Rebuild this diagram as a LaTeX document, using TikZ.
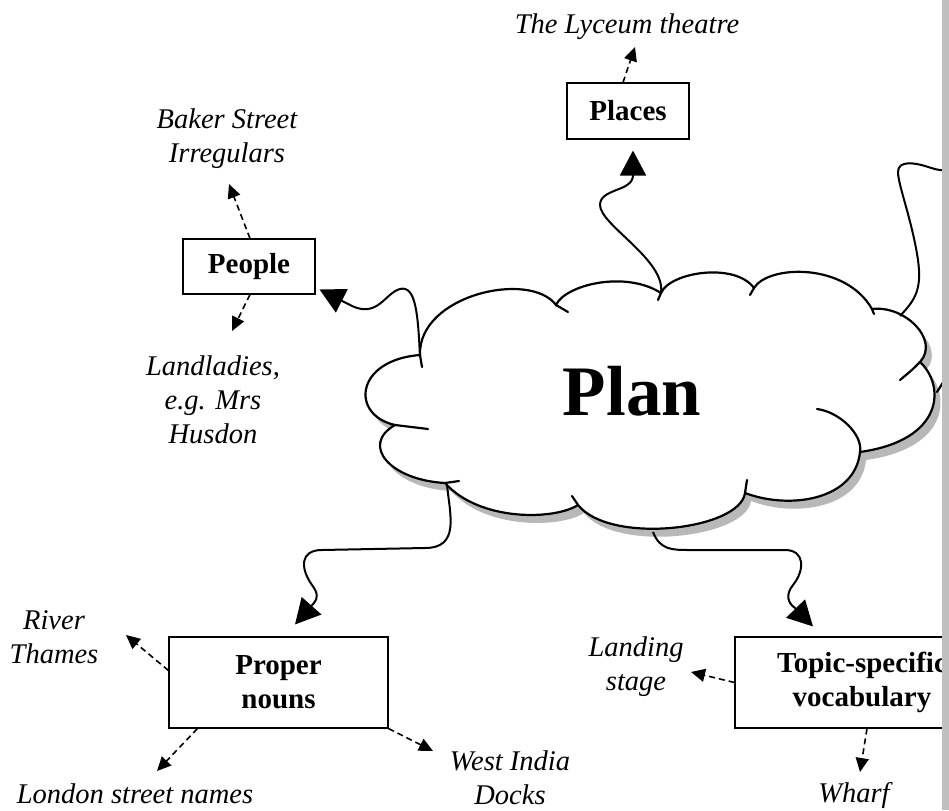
\documentclass[tikz,border=0pt]{standalone}
\usepackage{fontspec}
\setmainfont{Liberation Serif}
\usetikzlibrary{arrows.meta,calc}
\newcommand{\cloudshape}[1]{%
  \path[#1] (420,-355)
    .. controls (418,-295) and (530,-270) .. (556,-305)
    .. controls (565,-285) and (625,-270) .. (661,-293)
    .. controls (670,-272) and (735,-262) .. (754,-288)
    .. controls (768,-265) and (845,-262) .. (872,-309)
    .. controls (905,-305) and (940,-340) .. (920,-362)
    .. controls (945,-385) and (945,-440) .. (860,-452)
    .. controls (855,-500) and (790,-510) .. (745,-493)
    .. controls (740,-530) and (610,-545) .. (578,-505)
    .. controls (555,-520) and (480,-522) .. (445,-483)
    .. controls (390,-480) and (360,-445) .. (395,-425)
    .. controls (350,-415) and (355,-360) .. (420,-355) -- cycle;}
\begin{document}
\begin{tikzpicture}[x=1pt,y=1pt,
  box/.style={draw, line width=1.1pt, inner sep=0pt, font=\fontsize{29}{34}\selectfont\bfseries, align=center},
  lab/.style={font=\fontsize{28.5}{34}\selectfont\itshape, align=center, inner sep=0pt},
  wavy/.style={line width=2pt, -{Triangle[length=25pt,width=26pt]}},
  dasharr/.style={line width=1.6pt, dash pattern=on 6pt off 4pt, -{Triangle[length=14pt,width=13pt]}},
  cloudline/.style={line width=2.2pt, line cap=round},
]
\useasboundingbox (0,0) rectangle (949,-810);
\clip (0,0) rectangle (949,-810);
\fill[white] (0,0) rectangle (949,-810);

% cloud shadow and body
\cloudshape{fill=black!28, shift={(6,-8)}}
\cloudshape{fill=white, draw, cloudline}
% inner tails of the cloud lobes
\draw[cloudline] (420,-355) -- (422,-367);
\draw[cloudline] (556,-305) -- (568,-312);
\draw[cloudline] (661,-293) -- (658,-300);
\draw[cloudline] (754,-288) -- (750,-295);
\draw[cloudline] (872,-309) -- (874,-314);
\draw[cloudline] (920,-362) .. controls (912,-370) .. (900,-380);
\draw[cloudline] (860,-452) .. controls (863,-435) and (840,-412) .. (817,-409);
\draw[cloudline] (745,-493) -- (747,-480);
\draw[cloudline] (578,-505) -- (572,-496);
\draw[cloudline] (445,-483) -- (459,-481);
\draw[cloudline] (395,-425) -- (428,-429);
\draw[cloudline] (937,-392) -- (952,-368);

\node[font=\fontsize{71}{80}\selectfont\bfseries, inner sep=0pt] (plan) at (632,-391) {Plan};

% cloud anchor points
\coordinate (cTop) at (661,-293);
\coordinate (cLeft) at (420,-357);
\coordinate (cBL) at (447,-485);
\coordinate (cBot) at (653,-532);
\coordinate (cRight) at (900,-316);
\coordinate (cOff) at (955,-170);

% boxes
\node[box, minimum width=122pt, minimum height=56pt] (places) at (628,-111) {Places};
\node[box, minimum width=132pt, minimum height=55pt] (people) at (249,-266.5) {People};
\node[box, minimum width=219pt, minimum height=91pt] (proper) at (278.5,-682.5) {Proper\\nouns};
\node[box, minimum width=254pt, minimum height=91pt] (topic) at (862,-682.5) {Topic-specific\\vocabulary};

% labels
\node[lab] (lyceum) at (627,-27) {The Lyceum theatre};
\node[lab] (baker) at (227,-139) {Baker Street\\Irregulars};
\node[lab] (landl) at (213,-400) {Landladies,\\e.g. Mrs\\Husdon};
\node[lab] (river) at (54,-637) {River\\Thames};
\node[lab] (london) at (135,-794) {London street names};
\node[lab] (westindia) at (510,-778) {West India\\Docks};
\node[lab] (landing) at (636,-667) {Landing\\stage};
\node[lab] (wharf) at (854,-795) {Wharf};

% free ends of the dashed connectors
\coordinate (dLyceum) at (635,-47);
\coordinate (dBaker) at (229,-184);
\coordinate (dLandl) at (232,-331);
\coordinate (dRiver) at (126,-635);
\coordinate (dLondon) at (157,-771);
\coordinate (dWest) at (433,-751);
\coordinate (dLanding) at (691,-672);
\coordinate (dWharf) at (860,-772);

% tips of the wavy connectors
\coordinate (tPlaces) at ($(places.south)+(5,-11)$);
\coordinate (tPeople) at ($(people.east)+(4,-23)$);
\coordinate (tProper) at ($(proper.north)+(16.5,12)$);
\coordinate (tTopic) at ($(topic.north)+(-49,10)$);

% wavy connectors
\draw[wavy] (cTop) .. controls (666,-260) and (600,-225) .. (600,-205)
  .. controls (600,-188) and (633,-192) .. (tPlaces);
\draw[wavy] (cLeft) .. controls (418,-315) and (416,-285) .. (400,-289)
  .. controls (385,-293) and (378,-318) .. (352,-306) -- (tPeople);
\draw[wavy] (cBL) .. controls (450,-515) and (460,-548) .. (425,-548)
  -- (322,-550) .. controls (300,-550) and (300,-568) .. (312,-585)
  .. controls (318,-593) and (318,-598) .. (314,-603) -- (tProper);
\draw[wavy] (cBot) .. controls (660,-550) and (672,-550) .. (690,-550)
  -- (785,-550) .. controls (805,-550) and (805,-570) .. (793,-585)
  .. controls (785,-595) and (788,-603) .. (795,-608) -- (tTopic);
\draw[line width=2pt] (cRight) .. controls (915,-300) and (922,-290) .. (918,-260)
  .. controls (912,-220) and (898,-185) .. (898,-172)
  .. controls (898,-160) and (915,-163) .. (925,-166)
  .. controls (932,-168) and (940,-172) .. (cOff);

% dashed connectors
\draw[dasharr] ($(places.north)+(-5,0)$) -- (dLyceum);
\draw[dasharr] ($(people.north)+(1,0)$) -- (dBaker);
\draw[dasharr] ($(people.south)+(1,0)$) -- (dLandl);
\draw[dasharr] ($(proper.west)+(0,12)$) -- (dRiver);
\draw[dasharr] ($(proper.south west)+(29,0)$) -- (dLondon);
\draw[dasharr] (proper.south east) -- (dWest);
\draw[dasharr] (topic.west) -- (dLanding);
\draw[dasharr] ($(topic.south)+(5,0)$) -- (dWharf);

% stippled strip at the right edge
\fill[black!25] (942,0) rectangle (949,-810);
\end{tikzpicture}
\end{document}
